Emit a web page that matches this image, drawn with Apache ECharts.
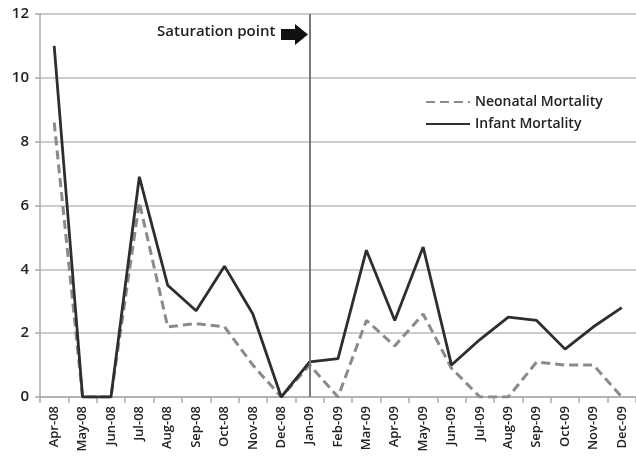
<!DOCTYPE html>
<html><head><meta charset="utf-8">
<script src="https://cdn.jsdelivr.net/npm/echarts@6/dist/echarts.min.js"></script>
<style>html,body{margin:0;padding:0;background:#fff}#c{width:636px;height:461px}</style>
</head><body><div id="c"></div>
<script>
var months = ['Apr-08','May-08','Jun-08','Jul-08','Aug-08','Sep-08','Oct-08','Nov-08','Dec-08','Jan-09','Feb-09','Mar-09','Apr-09','May-09','Jun-09','Jul-09','Aug-09','Sep-09','Oct-09','Nov-09','Dec-09'];
var neonatal = [8.6,0,0,6.1,2.2,2.3,2.2,1.0,0,1.0,0,2.4,1.6,2.6,0.9,0,0,1.1,1.0,1.0,0];
var infant = [11,0,0,6.9,3.5,2.7,4.1,2.6,0,1.1,1.2,4.6,2.4,4.7,1.0,1.8,2.5,2.4,1.5,2.2,2.8];
var yTicks = [0,2,4,6,8,10,12];
var saturationMonth = 'Jan-09';

var font = 'Open Sans';
var chart = echarts.init(document.getElementById('c'));
chart.setOption({
  animation: false,
  textStyle: {fontFamily: font},
  grid: {left: 40, right: -2, top: 14, bottom: 64},
  legend: {
    orient: 'vertical', left: 420, top: 90, itemWidth: 44, itemHeight: 14, itemGap: 8,
    itemStyle: {opacity: 0},
    textStyle: {fontFamily: font, fontSize: 14, fontWeight: 600, color: '#222'},
    data: ['Neonatal Mortality', 'Infant Mortality']
  },
  xAxis: {
    type: 'category', data: months, boundaryGap: true,
    axisLine: {lineStyle: {color: '#aaa', width: 1.5}},
    axisTick: {show: true, length: 6, lineStyle: {color: '#aaa', width: 1.5}},
    axisLabel: {rotate: 90, interval: 0, fontSize: 13, fontWeight: 600, color: '#222', margin: 9}
  },
  yAxis: {
    type: 'value', min: yTicks[0], max: yTicks[yTicks.length-1], interval: 2,
    axisLine: {show: true, lineStyle: {color: '#aaa', width: 1.5}},
    axisTick: {show: true, length: 5, lineStyle: {color: '#aaa', width: 1.5}},
    splitLine: {lineStyle: {color: '#bbb', width: 1.5}},
    axisLabel: {fontSize: 15, fontWeight: 600, color: '#222', margin: 11}
  },
  series: [
    {name: 'Neonatal Mortality', type: 'line', data: neonatal, symbol: 'none', color: '#8a8a8a',
     lineStyle: {type: [9, 5], width: 3, color: '#8a8a8a'}},
    {name: 'Infant Mortality', type: 'line', data: infant, symbol: 'none', color: '#2e2e2e',
     lineStyle: {width: 2.8, color: '#2e2e2e'},
     markLine: {silent: true, symbol: 'none', label: {show: false},
       lineStyle: {color: '#777', width: 2, type: 'solid'},
       data: [{xAxis: saturationMonth}]}}
  ],
  graphic: [
    {type: 'text', left: 157, top: 24, style: {text: 'Saturation point', fontFamily: font, fontSize: 15, fontWeight: 600, fill: '#222'}},
    {type: 'polygon', shape: {points: [[281,29],[295,29],[295,24],[308,34.5],[295,45],[295,40],[281,40]]}, style: {fill: '#111'}}
  ]
});
</script></body></html>
